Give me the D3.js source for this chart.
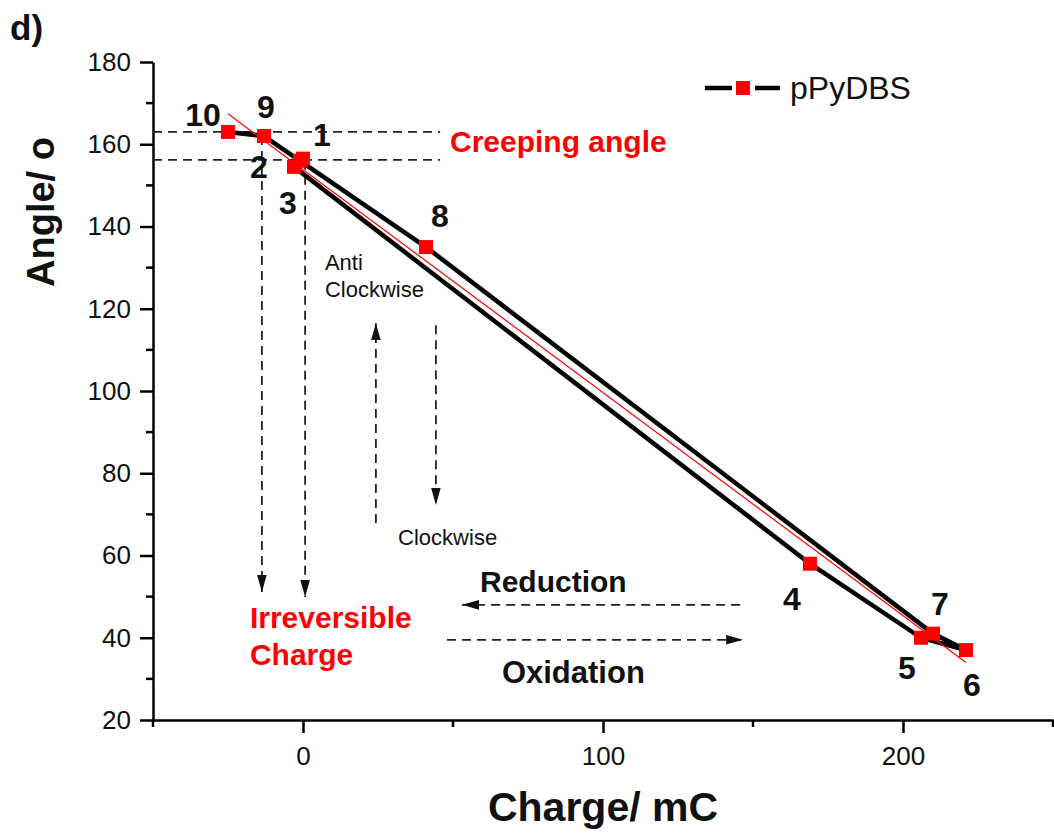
<style>
body { margin: 0; background: #fff; }
text { font-family: "Liberation Sans", Arial, sans-serif; }
.axis path, .axis line { stroke: #000; stroke-width: 2.5px; }
.axis text { font-size: 26px; fill: #111; }
.dash { fill: none; stroke: #222; stroke-width: 1.8px; stroke-dasharray: 9 6; }
.num { font-size: 32px; font-weight: bold; fill: #111; }
</style>

<svg width="1054" height="836"></svg>

<script src="https://d3js.org/d3.v7.min.js"></script>

<script type="text/javascript">

    // cycle points, in measuring order
    var pointLabels = ["1", "2", "3", "4", "5", "6", "7", "8", "9", "10"];
    var charge = [0, -1, -3, 169, 206, 221, 210, 41, -13, -25];
    var angle = [156.5, 156, 154.5, 58, 40, 37, 41, 135, 162, 163];

    // red linear fit, end points
    var fitCharge = [-25, 221];
    var fitAngle = [167.4, 34];

    // axis ticks
    var xMajor = [0, 100, 200];
    var xMinor = [-50, 50, 150, 250];
    var yMajor = [20, 40, 60, 80, 100, 120, 140, 160, 180];
    var yMinor = [30, 50, 70, 90, 110, 130, 150, 170];

    var seriesName = "pPyDBS";

    var points = pointLabels.map(function(l, i) {
        return {label: l, q: charge[i], a: angle[i]};
    });

    var svg = d3.select("svg");

    var x = d3.scaleLinear().domain([-50, 250]).range([153, 1053]);
    var y = d3.scaleLinear().domain([20, 180]).range([720, 62]);

    // arrow heads
    var defs = svg.append("defs");
    defs.append("marker")
        .attr("id", "head")
        .attr("viewBox", "0 0 16 10")
        .attr("refX", 16).attr("refY", 5)
        .attr("markerWidth", 17).attr("markerHeight", 11)
        .attr("markerUnits", "userSpaceOnUse")
        .attr("orient", "auto")
        .append("path")
        .attr("d", "M0,0.5 L16,5 L0,9.5 Z")
        .attr("fill", "#111");

    // axes
    var xAxisG = svg.append("g").attr("class", "axis")
        .attr("transform", "translate(0," + y(20) + ")");
    xAxisG.call(d3.axisBottom(x).tickValues(xMajor).tickSize(13).tickPadding(14).tickSizeOuter(0));
    xAxisG.append("g").selectAll("line").data(xMinor).enter().append("line")
        .attr("x1", x).attr("x2", x).attr("y1", 0).attr("y2", 7);

    var yAxisG = svg.append("g").attr("class", "axis")
        .attr("transform", "translate(" + x(-50) + ",0)");
    yAxisG.call(d3.axisLeft(y).tickValues(yMajor).tickSize(13).tickPadding(9).tickSizeOuter(0));
    yAxisG.append("g").selectAll("line").data(yMinor).enter().append("line")
        .attr("y1", y).attr("y2", y).attr("x1", 0).attr("x2", -7);

    // dashed guides
    var guides = svg.append("g");
    function dashed(q1, a1, q2, a2, arrow) {
        var l = guides.append("line").attr("class", "dash")
            .attr("x1", x(q1)).attr("y1", y(a1))
            .attr("x2", x(q2)).attr("y2", y(a2));
        if (arrow) l.attr("marker-end", "url(#head)");
    }
    dashed(-50, 163, 45.7, 163);
    dashed(-50, 156.2, 45.7, 156.2);
    dashed(-13.7, 162, -13.7, 51.1, true);
    dashed(0.7, 156, 0.7, 49.9, true);
    dashed(24.3, 67.9, 24.3, 116.5, true);
    dashed(44.3, 116, 44.3, 72.3, true);
    dashed(145.7, 48, 53, 48, true);
    dashed(48, 39.5, 146.7, 39.5, true);

    // series
    var line = d3.line()
        .x(function(d) { return x(d.q); })
        .y(function(d) { return y(d.a); });

    svg.append("path")
        .datum(points)
        .attr("d", line)
        .attr("fill", "none")
        .attr("stroke", "#000")
        .attr("stroke-width", 4.5)
        .attr("stroke-linejoin", "round");

    svg.append("line")
        .attr("x1", x(fitCharge[0])).attr("y1", y(fitAngle[0]))
        .attr("x2", x(fitCharge[1])).attr("y2", y(fitAngle[1]))
        .attr("stroke", "#ff0000").attr("stroke-width", 1.2);

    svg.append("g").selectAll("rect").data(points).enter().append("rect")
        .attr("x", function(d) { return x(d.q) - 7; })
        .attr("y", function(d) { return y(d.a) - 7; })
        .attr("width", 14).attr("height", 14)
        .attr("fill", "#ff0000");

    // point numbers
    var labelOffsets = [[19, -25], [-41, 5], [-6, 35], [-18, 34], [-14, 29], [6, 34], [7, -31], [14, -32], [2, -30], [-25, -18]];
    svg.append("g").selectAll("text").data(points).enter().append("text")
        .attr("class", "num")
        .attr("text-anchor", "middle")
        .attr("x", function(d, i) { return x(d.q) + labelOffsets[i][0]; })
        .attr("y", function(d, i) { return y(d.a) + labelOffsets[i][1] + 12; })
        .text(function(d) { return d.label; });

    // annotations
    function note(q, a, str, size, weight, color, anchor) {
        svg.append("text")
            .attr("x", x(q)).attr("y", y(a))
            .attr("font-size", size)
            .attr("font-weight", weight)
            .attr("fill", color)
            .attr("text-anchor", anchor || "start")
            .text(str);
    }
    note(49, 158.1, "Creeping angle", 30, "bold", "#ff0000");
    note(-17.7, 42.4, "Irreversible", 30, "bold", "#ff0000");
    note(-17.7, 33.4, "Charge", 30, "bold", "#ff0000");
    note(7.3, 129.4, "Anti", 22, "normal", "#111");
    note(7.3, 122.9, "Clockwise", 22, "normal", "#111");
    note(31.7, 62.6, "Clockwise", 22, "normal", "#111");
    note(59, 51.1, "Reduction", 30, "bold", "#111");
    note(66.3, 29, "Oxidation", 31, "bold", "#111");

    // legend
    var lg = svg.append("g");
    lg.append("line").attr("x1", 705).attr("x2", 732).attr("y1", 88).attr("y2", 88)
        .attr("stroke", "#000").attr("stroke-width", 4.5);
    lg.append("line").attr("x1", 755).attr("x2", 780).attr("y1", 88).attr("y2", 88)
        .attr("stroke", "#000").attr("stroke-width", 4.5);
    lg.append("rect").attr("x", 736).attr("y", 81).attr("width", 14).attr("height", 14)
        .attr("fill", "#ff0000");
    lg.append("text").attr("x", 790).attr("y", 99)
        .attr("font-size", 32).attr("fill", "#111").text(seriesName);

    // axis titles
    svg.append("text")
        .attr("x", x(100)).attr("y", 821)
        .attr("text-anchor", "middle")
        .attr("font-size", 41).attr("font-weight", "bold").attr("fill", "#111")
        .text("Charge/ mC");

    svg.append("text")
        .attr("transform", "translate(54,212) rotate(-90)")
        .attr("text-anchor", "middle")
        .attr("font-size", 38).attr("font-weight", "bold").attr("fill", "#111")
        .text("Angle/ o");

    svg.append("text")
        .attr("x", 10).attr("y", 40)
        .attr("font-size", 35).attr("font-weight", "bold").attr("fill", "#111")
        .text("d)");
</script>
